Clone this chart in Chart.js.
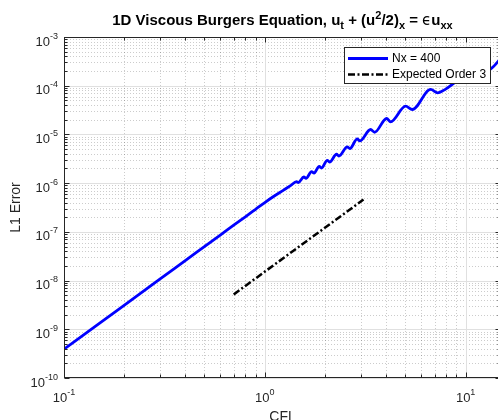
<!DOCTYPE html>
<html>
<head>
<meta charset="utf-8">
<script src="https://cdn.jsdelivr.net/npm/chart.js@4"></script>
<style>
  html, body { margin: 0; padding: 0; overflow: hidden; background: #fff; }
  canvas { display: block; }
</style>
</head>
<body>
<canvas id="c" width="502" height="420"></canvas>
<script>
// L1 error of the Nx = 400 run against CFL number
const cflNx400 = [0.1, 0.15, 0.2, 0.3, 0.4, 0.5, 0.6, 0.7, 0.8, 0.9, 1.0, 1.1, 1.24, 1.343,
  1.439, 1.469, 1.564, 1.604, 1.709, 1.759, 1.866, 1.916, 2.046, 2.101, 2.276, 2.337,
  2.574, 2.652, 2.886, 2.973, 3.363, 3.521, 4.041, 4.231, 5.024, 5.425, 6.694, 7.253,
  7.949, 8.714, 10.0, 11.21, 13.48, 14.59, 15.0];
const errNx400 = [3.9e-10, 1.32e-9, 3.15e-9, 1.07e-8, 2.54e-8, 4.97e-8, 8.6e-8, 1.37e-7, 2.04e-7,
  2.91e-7, 4.0e-7, 5.25e-7, 7.2e-7, 8.9e-7, 1.074e-6, 1.028e-6, 1.336e-6, 1.256e-6, 1.725e-6,
  1.607e-6, 2.218e-6, 2.046e-6, 2.944e-6, 2.704e-6, 3.92e-6, 3.61e-6, 5.53e-6, 5.13e-6,
  8.07e-6, 7.34e-6, 1.262e-5, 1.109e-5, 2.123e-5, 1.807e-5, 3.80e-5, 3.25e-5, 8.39e-5,
  7.14e-5, 8.51e-5, 1.114e-4, 1.734e-4, 1.503e-4, 2.30e-4, 3.25e-4, 3.78e-4];

// third-order reference slope
const cflOrder3 = [0.7, 3.1];
const errOrder3 = [5.2e-9, 4.6e-7];

const seriesLabels = ['Nx = 400', 'Expected Order 3'];

// decade ticks: value and exponent shown as superscript
const xTickValues = [0.1, 1, 10];
const xTickExponents = ['-1', '0', '1'];
const yTickValues = [1e-10, 1e-9, 1e-8, 1e-7, 1e-6, 1e-5, 1e-4, 1e-3];
const yTickExponents = ['-10', '-9', '-8', '-7', '-6', '-5', '-4', '-3'];
const minorMultiples = [2, 3, 4, 5, 6, 7, 8, 9];

const FONT = '"Liberation Sans", Arial, Helvetica, sans-serif';
const AXIS_COLOR = '#262626';

function toPoints(xs, ys) { return xs.map((x, i) => ({ x: x, y: ys[i] })); }

// draws a run of text pieces (normal / sub / superscript) side by side
function measureRich(ctx, parts) {
  let w = 0;
  parts.forEach(p => { ctx.font = p.font; p.w = ctx.measureText(p.t).width; w += p.w; });
  return w;
}
function drawRich(ctx, parts, x, baseY) {
  parts.forEach(p => {
    ctx.font = p.font;
    ctx.fillText(p.t, x, baseY + (p.dy || 0));
    x += p.w;
  });
}
function powerLabel(exp) {
  return [
    { t: '10', font: '13px ' + FONT, dy: 0 },
    { t: exp, font: '9px ' + FONT, dy: -7 }
  ];
}

function gridValues(scale) {
  const out = [];
  const lo = Math.floor(Math.log10(scale.min));
  const hi = Math.ceil(Math.log10(scale.max));
  for (let d = lo; d <= hi; d++) {
    const base = Math.pow(10, d);
    [1].concat(minorMultiples).forEach(m => {
      const v = m * base;
      if (v >= scale.min * 0.9999 && v <= scale.max * 1.0001) out.push({ v: v, major: m === 1 });
    });
  }
  return out;
}

const axesPlugin = {
  id: 'matlabAxes',
  beforeDatasetsDraw(chart) {
    const ctx = chart.ctx, a = chart.chartArea;
    const xs = chart.scales.x, ys = chart.scales.y;
    ctx.save();
    ctx.lineWidth = 1;
    // minor grid (dotted) first, then major grid (solid)
    [false, true].forEach(majorPass => {
      ctx.strokeStyle = majorPass ? '#e0e0e0' : 'rgba(0,0,0,0.2)';
      ctx.setLineDash(majorPass ? [] : [1, 2]);
      gridValues(xs).forEach(g => {
        if (g.major !== majorPass) return;
        const px = Math.round(xs.getPixelForValue(g.v)) + 0.5;
        ctx.beginPath(); ctx.moveTo(px, a.top); ctx.lineTo(px, a.bottom); ctx.stroke();
      });
      gridValues(ys).forEach(g => {
        if (g.major !== majorPass) return;
        const py = Math.round(ys.getPixelForValue(g.v)) + 0.5;
        ctx.beginPath(); ctx.moveTo(a.left, py); ctx.lineTo(a.right, py); ctx.stroke();
      });
    });
    ctx.restore();
  },
  afterDatasetsDraw(chart) {
    const ctx = chart.ctx, a = chart.chartArea;
    const xs = chart.scales.x, ys = chart.scales.y;
    const L = Math.round(a.left) + 0.5, R = Math.round(a.right) - 0.5;
    const T = Math.round(a.top) + 0.5, B = Math.round(a.bottom) - 0.5;
    ctx.save();
    ctx.setLineDash([]);
    ctx.strokeStyle = AXIS_COLOR;
    ctx.lineWidth = 1;
    // axes box
    ctx.strokeRect(L, T, R - L, B - T);
    // inward tick marks on all four sides
    gridValues(xs).forEach(g => {
      const px = Math.round(xs.getPixelForValue(g.v)) + 0.5;
      const len = g.major ? 5 : 3;
      ctx.beginPath();
      ctx.moveTo(px, B); ctx.lineTo(px, B - len);
      ctx.moveTo(px, T); ctx.lineTo(px, T + len);
      ctx.stroke();
    });
    gridValues(ys).forEach(g => {
      const py = Math.round(ys.getPixelForValue(g.v)) + 0.5;
      const len = g.major ? 5 : 3;
      ctx.beginPath();
      ctx.moveTo(L, py); ctx.lineTo(L + len, py);
      ctx.moveTo(R, py); ctx.lineTo(R - len, py);
      ctx.stroke();
    });

    // tick labels
    ctx.fillStyle = AXIS_COLOR;
    ctx.textAlign = 'left';
    ctx.textBaseline = 'alphabetic';
    xTickValues.forEach((v, i) => {
      const parts = powerLabel(xTickExponents[i]);
      const w = measureRich(ctx, parts);
      drawRich(ctx, parts, xs.getPixelForValue(v) - w / 2, a.bottom + 24);
    });
    yTickValues.forEach((v, i) => {
      const parts = powerLabel(yTickExponents[i]);
      const w = measureRich(ctx, parts);
      drawRich(ctx, parts, a.left - 6 - w, ys.getPixelForValue(v) + 8.5);
    });

    // axis titles
    ctx.font = '14px ' + FONT;
    ctx.textAlign = 'center';
    ctx.fillText('CFL', (a.left + a.right) / 2, 421);
    ctx.save();
    ctx.translate(20, (a.top + a.bottom) / 2);
    ctx.rotate(-Math.PI / 2);
    ctx.fillText('L1 Error', 0, 0);
    ctx.restore();

    // title with sub/superscripts
    ctx.fillStyle = '#000';
    ctx.textAlign = 'left';
    const bf = 'bold 15px ' + FONT, bs = 'bold 11px ' + FONT;
    const title = [
      { t: '1D Viscous Burgers Equation, u', font: bf },
      { t: 't', font: bs, dy: 4 },
      { t: ' + (u', font: bf },
      { t: '2', font: bs, dy: -6 },
      { t: '/2)', font: bf },
      { t: 'x', font: bs, dy: 4 },
      { t: ' = ', font: bf },
      { t: '\u03F5', font: '15px "DejaVu Sans", ' + FONT },
      { t: 'u', font: bf },
      { t: 'xx', font: bs, dy: 4 }
    ];
    const tw = measureRich(ctx, title);
    drawRich(ctx, title, (a.left + a.right) / 2 - tw / 2, 25);

    // legend box inside the axes
    const box = { x: 344.5, y: 47.5, w: 146, h: 36 };
    ctx.fillStyle = '#fff';
    ctx.fillRect(box.x, box.y, box.w, box.h);
    ctx.strokeStyle = AXIS_COLOR;
    ctx.lineWidth = 1;
    ctx.strokeRect(box.x, box.y, box.w, box.h);
    ctx.font = '12px ' + FONT;
    ctx.textBaseline = 'middle';
    chart.data.datasets.forEach((ds, i) => {
      const yy = 58.5 + i * 16;
      ctx.strokeStyle = ds.borderColor;
      ctx.lineWidth = ds.borderWidth;
      ctx.setLineDash(ds.borderDash || []);
      ctx.beginPath(); ctx.moveTo(348, yy); ctx.lineTo(388, yy); ctx.stroke();
      ctx.setLineDash([]);
      ctx.fillStyle = '#000';
      ctx.fillText(ds.label, 392, yy + 0.5);
    });
    ctx.restore();
  }
};

new Chart(document.getElementById('c'), {
  type: 'line',
  data: {
    datasets: [
      {
        label: seriesLabels[0],
        data: toPoints(cflNx400, errNx400),
        borderColor: '#0000ff',
        borderWidth: 2.8,
        pointRadius: 0,
        fill: false,
        cubicInterpolationMode: 'monotone'
      },
      {
        label: seriesLabels[1],
        data: toPoints(cflOrder3, errOrder3),
        borderColor: '#000000',
        borderWidth: 2.5,
        borderDash: [7, 2.5, 2, 2.5],
        pointRadius: 0,
        fill: false
      }
    ]
  },
  options: {
    responsive: false,
    animation: false,
    events: [],
    layout: { padding: { left: 64, top: 37, right: 1, bottom: 42 } },
    plugins: { legend: { display: false }, tooltip: { enabled: false }, title: { display: false } },
    scales: {
      x: {
        type: 'logarithmic', min: 0.1, max: 15,
        ticks: { display: false }, grid: { display: false }, border: { display: false },
        afterFit: s => { s.height = 0; }
      },
      y: {
        type: 'logarithmic', min: 1e-10, max: 1e-3,
        ticks: { display: false }, grid: { display: false }, border: { display: false },
        afterFit: s => { s.width = 0; }
      }
    }
  },
  plugins: [axesPlugin]
});
</script>
</body>
</html>
